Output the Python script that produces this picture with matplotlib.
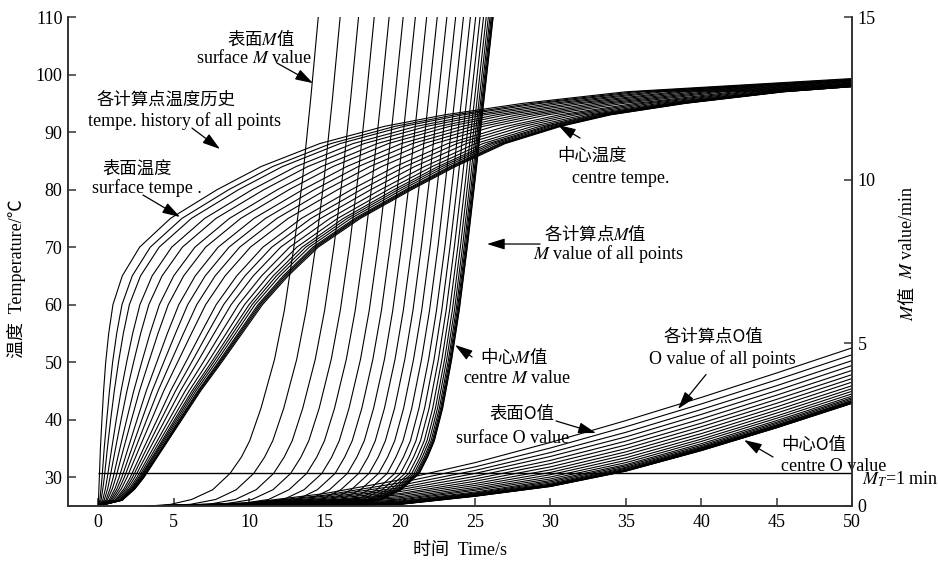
import matplotlib.pyplot as plt

plt.rcParams['font.family'] = ['Liberation Serif', 'Noto Sans CJK SC']
plt.rcParams['mathtext.fontset'] = 'stix'

# temperature curves, surface point first, centre point last
# time (s) at which each point reaches the level
temp_start = 25
temp_levels = [26, 28, 30, 35, 40, 45, 50, 55, 60, 65, 70, 75, 80, 84, 88, 91, 93, 95, 97]
temp_t26 = [0.02, 0.11, 0.19, 0.30, 0.40, 0.51, 0.60, 0.72, 0.81, 0.90, 1.00, 1.11, 1.19, 1.27, 1.35, 1.41, 1.46, 1.49, 1.52, 1.55, 1.57, 1.58, 1.60]
temp_t28 = [0.05, 0.19, 0.31, 0.48, 0.63, 0.79, 0.94, 1.11, 1.25, 1.39, 1.54, 1.71, 1.83, 1.95, 2.07, 2.16, 2.23, 2.28, 2.33, 2.38, 2.40, 2.43, 2.45]
temp_t30 = [0.08, 0.26, 0.41, 0.61, 0.79, 1.00, 1.18, 1.39, 1.57, 1.74, 1.92, 2.13, 2.28, 2.43, 2.58, 2.69, 2.78, 2.84, 2.90, 2.96, 2.99, 3.02, 3.05]
temp_t35 = [0.15, 0.40, 0.61, 0.90, 1.15, 1.44, 1.69, 1.98, 2.23, 2.47, 2.72, 3.01, 3.22, 3.43, 3.64, 3.80, 3.93, 4.01, 4.09, 4.18, 4.22, 4.26, 4.30]
temp_t40 = [0.25, 0.57, 0.83, 1.20, 1.52, 1.89, 2.21, 2.58, 2.90, 3.22, 3.54, 3.91, 4.17, 4.44, 4.70, 4.91, 5.07, 5.18, 5.29, 5.39, 5.44, 5.50, 5.55]
temp_t45 = [0.36, 0.75, 1.07, 1.52, 1.91, 2.36, 2.74, 3.19, 3.58, 3.97, 4.35, 4.80, 5.13, 5.45, 5.77, 6.03, 6.22, 6.35, 6.48, 6.61, 6.67, 6.74, 6.80]
temp_t50 = [0.50, 0.96, 1.35, 1.89, 2.35, 2.89, 3.35, 3.89, 4.35, 4.81, 5.27, 5.81, 6.20, 6.58, 6.97, 7.28, 7.51, 7.66, 7.82, 7.97, 8.05, 8.12, 8.20]
temp_t55 = [0.70, 1.23, 1.67, 2.29, 2.82, 3.44, 3.97, 4.59, 5.13, 5.66, 6.19, 6.81, 7.25, 7.69, 8.13, 8.49, 8.75, 8.93, 9.11, 9.28, 9.37, 9.46, 9.55]
temp_t60 = [0.98, 1.58, 2.07, 2.77, 3.36, 4.06, 4.65, 5.35, 5.94, 6.54, 7.13, 7.83, 8.32, 8.82, 9.31, 9.71, 10.01, 10.21, 10.40, 10.60, 10.70, 10.80, 10.90]
temp_t65 = [1.60, 2.26, 2.81, 3.58, 4.24, 5.01, 5.67, 6.44, 7.10, 7.76, 8.42, 9.19, 9.74, 10.29, 10.84, 11.28, 11.61, 11.83, 12.05, 12.27, 12.38, 12.49, 12.60]
temp_t70 = [2.75, 3.46, 4.05, 4.88, 5.59, 6.42, 7.13, 7.96, 8.68, 9.39, 10.10, 10.93, 11.52, 12.11, 12.70, 13.18, 13.53, 13.77, 14.01, 14.24, 14.36, 14.48, 14.60]
temp_t75 = [4.80, 5.56, 6.19, 7.07, 7.82, 8.71, 9.46, 10.34, 11.10, 11.86, 12.61, 13.49, 14.12, 14.75, 15.38, 15.89, 16.27, 16.52, 16.77, 17.02, 17.15, 17.27, 17.40]
temp_t80 = [7.90, 8.67, 9.32, 10.22, 11.00, 11.90, 12.67, 13.58, 14.35, 15.12, 15.90, 16.80, 17.45, 18.09, 18.74, 19.25, 19.64, 19.90, 20.16, 20.41, 20.54, 20.67, 20.80]
temp_t84 = [10.80, 11.57, 12.22, 13.12, 13.90, 14.80, 15.57, 16.48, 17.25, 18.02, 18.80, 19.70, 20.35, 20.99, 21.64, 22.15, 22.54, 22.80, 23.06, 23.31, 23.44, 23.57, 23.70]
temp_t88 = [14.70, 15.44, 16.05, 16.91, 17.65, 18.51, 19.25, 20.11, 20.85, 21.59, 22.33, 23.19, 23.80, 24.42, 25.03, 25.52, 25.89, 26.14, 26.39, 26.63, 26.75, 26.88, 27.00]
temp_t91 = [19.00, 19.70, 20.29, 21.11, 21.81, 22.63, 23.33, 24.15, 24.85, 25.55, 26.25, 27.07, 27.66, 28.24, 28.83, 29.30, 29.65, 29.88, 30.12, 30.35, 30.47, 30.58, 30.70]
temp_t93 = [23.00, 23.66, 24.21, 24.98, 25.64, 26.41, 27.07, 27.84, 28.50, 29.16, 29.82, 30.59, 31.14, 31.69, 32.24, 32.68, 33.01, 33.23, 33.45, 33.67, 33.78, 33.89, 34.00]
temp_t95 = [28.20, 28.85, 29.39, 30.14, 30.79, 31.55, 32.20, 32.95, 33.60, 34.25, 34.90, 35.65, 36.19, 36.73, 37.27, 37.70, 38.03, 38.24, 38.46, 38.68, 38.78, 38.89, 39.00]
temp_t97 = [35.0, 35.6, 36.2, 36.9, 37.5, 38.3, 38.9, 39.6, 40.3, 40.9, 41.5, 42.2, 42.8, 43.3, 43.8, 44.2, 44.6, 44.8, 45.0, 45.2, 45.3, 45.4, 45.5]
temp_end = [99.3, 99.2, 99.1, 99.0, 99.0, 98.9, 98.8, 98.7, 98.6, 98.5, 98.4, 98.3, 98.3, 98.2, 98.1, 98.1, 98.0, 98.0, 98.0, 97.9, 97.9, 97.9, 97.9]

# M value curves (min): time (s) at which each point reaches the level
m_start = 3.4
m_levels = [0.05, 0.2, 0.5, 1, 1.5, 2, 3, 4.5, 6, 8, 10, 12.5, 15]
m_t0p05 = [4.8, 6.1, 7.3, 8.2, 9.1, 10.0, 10.7, 11.4, 12.1, 12.7, 13.2, 13.7, 14.1, 14.4, 14.7, 14.9, 15.1, 15.2, 15.3, 15.4, 15.4, 15.5, 15.5]
m_t0p2 = [6.2, 7.8, 9.1, 10.2, 11.3, 12.3, 13.2, 14.0, 14.8, 15.5, 16.1, 16.7, 17.2, 17.5, 17.9, 18.1, 18.3, 18.4, 18.6, 18.7, 18.7, 18.8, 18.8]
m_t0p5 = [7.60, 9.16, 10.48, 11.60, 12.66, 13.66, 14.54, 15.35, 16.10, 16.79, 17.41, 17.98, 18.48, 18.85, 19.16, 19.41, 19.60, 19.75, 19.88, 19.96, 20.03, 20.08, 20.10]
m_t1 = [8.75, 10.32, 11.64, 12.77, 13.83, 14.84, 15.72, 16.53, 17.28, 17.97, 18.60, 19.17, 19.67, 20.05, 20.36, 20.61, 20.80, 20.95, 21.07, 21.16, 21.23, 21.28, 21.30]
m_t1p5 = [9.50, 11.04, 12.34, 13.45, 14.50, 15.49, 16.35, 17.16, 17.90, 18.58, 19.20, 19.75, 20.25, 20.62, 20.92, 21.17, 21.36, 21.50, 21.63, 21.71, 21.78, 21.83, 21.85]
m_t2 = [10.05, 11.58, 12.87, 13.97, 15.01, 15.99, 16.85, 17.65, 18.38, 19.05, 19.67, 20.22, 20.71, 21.08, 21.38, 21.63, 21.81, 21.96, 22.08, 22.17, 22.23, 22.28, 22.30]
m_t3 = [10.80, 12.31, 13.57, 14.66, 15.68, 16.64, 17.49, 18.27, 18.99, 19.66, 20.26, 20.80, 21.28, 21.65, 21.95, 22.19, 22.37, 22.51, 22.63, 22.72, 22.78, 22.83, 22.85]
m_t4p5 = [11.70, 13.17, 14.40, 15.46, 16.46, 17.40, 18.22, 18.99, 19.69, 20.34, 20.92, 21.45, 21.92, 22.28, 22.57, 22.80, 22.98, 23.12, 23.24, 23.32, 23.38, 23.43, 23.45]
m_t6 = [12.35, 13.80, 15.02, 16.06, 17.05, 17.98, 18.79, 19.54, 20.24, 20.88, 21.46, 21.98, 22.44, 22.79, 23.08, 23.31, 23.49, 23.63, 23.74, 23.82, 23.88, 23.93, 23.95]
m_t8 = [13.00, 14.44, 15.65, 16.68, 17.66, 18.58, 19.38, 20.13, 20.82, 21.45, 22.03, 22.55, 23.01, 23.35, 23.64, 23.87, 24.04, 24.18, 24.29, 24.37, 24.43, 24.48, 24.50]
m_t10 = [13.55, 14.98, 16.18, 17.21, 18.19, 19.10, 19.91, 20.65, 21.34, 21.97, 22.54, 23.05, 23.51, 23.86, 24.14, 24.37, 24.54, 24.68, 24.79, 24.87, 24.93, 24.98, 25.00]
m_t12p5 = [14.10, 15.54, 16.75, 17.78, 18.76, 19.68, 20.48, 21.23, 21.92, 22.55, 23.13, 23.65, 24.11, 24.45, 24.74, 24.97, 25.14, 25.28, 25.39, 25.47, 25.53, 25.58, 25.60]
m_t15 = [14.60, 16.05, 17.27, 18.31, 19.30, 20.23, 21.04, 21.79, 22.49, 23.13, 23.71, 24.23, 24.69, 25.04, 25.33, 25.56, 25.74, 25.88, 25.99, 26.07, 26.13, 26.18, 26.20]

# O value curves (min) at fixed times
o_times = [3.4, 10, 15, 20, 25, 30, 35, 40, 45, 50]
o_at3 = [0] * 23
o_at10 = [0.10, 0.09, 0.08, 0.07, 0.06, 0.05, 0.04, 0.04, 0.03, 0.03, 0.02, 0.02, 0.01, 0.01, 0.01, 0.01, 0, 0, 0, 0, 0, 0, 0]
o_at15 = [0.38, 0.33, 0.30, 0.26, 0.23, 0.20, 0.17, 0.15, 0.13, 0.11, 0.09, 0.07, 0.06, 0.05, 0.04, 0.03, 0.02, 0.02, 0.02, 0.01, 0.01, 0.01, 0.01]
o_at20 = [0.80, 0.71, 0.63, 0.56, 0.50, 0.44, 0.38, 0.34, 0.29, 0.25, 0.21, 0.18, 0.15, 0.13, 0.11, 0.09, 0.08, 0.07, 0.06, 0.06, 0.06, 0.05, 0.05]
o_at25 = [1.33, 1.20, 1.09, 1.00, 0.91, 0.83, 0.76, 0.69, 0.63, 0.57, 0.52, 0.48, 0.43, 0.40, 0.38, 0.36, 0.34, 0.33, 0.32, 0.31, 0.31, 0.30, 0.30]
o_at30 = [1.95, 1.78, 1.64, 1.52, 1.40, 1.30, 1.20, 1.11, 1.03, 0.96, 0.89, 0.83, 0.78, 0.74, 0.70, 0.67, 0.65, 0.64, 0.62, 0.62, 0.61, 0.60, 0.60]
o_at35 = [2.62, 2.43, 2.26, 2.12, 1.99, 1.87, 1.76, 1.66, 1.57, 1.48, 1.40, 1.33, 1.27, 1.23, 1.19, 1.16, 1.13, 1.11, 1.10, 1.09, 1.08, 1.07, 1.07]
o_at40 = [3.33, 3.13, 2.96, 2.81, 2.67, 2.54, 2.43, 2.32, 2.22, 2.13, 2.05, 1.98, 1.91, 1.86, 1.82, 1.79, 1.77, 1.75, 1.73, 1.72, 1.71, 1.70, 1.70]
o_at45 = [4.08, 3.87, 3.69, 3.54, 3.40, 3.27, 3.15, 3.04, 2.94, 2.85, 2.76, 2.69, 2.62, 2.57, 2.53, 2.49, 2.47, 2.45, 2.43, 2.42, 2.41, 2.40, 2.40]
o_at50 = [4.85, 4.64, 4.46, 4.31, 4.16, 4.03, 3.91, 3.80, 3.69, 3.60, 3.52, 3.44, 3.37, 3.32, 3.28, 3.24, 3.22, 3.20, 3.18, 3.17, 3.16, 3.15, 3.15]

mt_value = 1
time_range = [0, 50]

fig = plt.figure(figsize=(9.38, 5.66), dpi=100)
ax = fig.add_axes([68 / 938, 60 / 566, 784 / 938, 489 / 566])
ax2 = ax.twinx()

temp_rows = [temp_t26, temp_t28, temp_t30, temp_t35, temp_t40, temp_t45, temp_t50, temp_t55, temp_t60,
             temp_t65, temp_t70, temp_t75, temp_t80, temp_t84, temp_t88, temp_t91, temp_t93, temp_t95, temp_t97]
for i, end in enumerate(temp_end):
    x = [time_range[0]] + [row[i] for row in temp_rows] + [time_range[1]]
    y = [temp_start] + temp_levels + [end]
    ax.plot(x, y, color='black', lw=0.8)

m_rows = [m_t0p05, m_t0p2, m_t0p5, m_t1, m_t1p5, m_t2, m_t3, m_t4p5, m_t6, m_t8, m_t10, m_t12p5, m_t15]
for i in range(len(m_t1)):
    x = [m_start] + [row[i] for row in m_rows]
    y = [0] + m_levels
    ax2.plot(x, y, color='black', lw=0.8)

o_rows = [o_at3, o_at10, o_at15, o_at20, o_at25, o_at30, o_at35, o_at40, o_at45, o_at50]
for i in range(len(o_at50)):
    ax2.plot(o_times, [row[i] for row in o_rows], color='black', lw=0.8)

ax2.hlines(mt_value, time_range[0], time_range[1], color='black', lw=1.0)

ax.set_xlim(-2, 50)
ax.set_ylim(25, 110)
ax2.set_ylim(0, 15)
ax.set_xticks(range(0, 51, 5))
ax.set_yticks(range(30, 111, 10))
ax2.set_yticks([0, 5, 10, 15])

spine_c = '#333333'
for a in (ax, ax2):
    a.spines['top'].set_visible(False)
    for s in a.spines.values():
        s.set_color(spine_c)
        s.set_linewidth(1.2)
ax.tick_params(axis='both', direction='in', length=6, width=1.1, color=spine_c, labelsize=13)
ax.tick_params(axis='x', pad=6)
ax.tick_params(axis='y', pad=4)
ax2.tick_params(axis='y', direction='in', length=6, width=1.1, color=spine_c, labelsize=13, pad=4)

# axis titles
fig.text(460 / 938, 1 - 550 / 566, '时间  Time/s', fontsize=13, ha='center', va='center')
fig.text(16 / 938, 1 - 279 / 566, '温度  Temperature/℃', fontsize=13, rotation=90,
         ha='center', va='center')
fig.text(907 / 938, 1 - 321 / 566, '$M$值', family='Noto Sans CJK SC', fontsize=13,
         rotation=90, rotation_mode='anchor', ha='left', va='center')
fig.text(907 / 938, 1 - 279 / 566, '$M$ value/min', family='Liberation Serif', fontsize=13,
         rotation=90, rotation_mode='anchor', ha='left', va='center')

cjk = dict(family='Noto Sans CJK SC', fontsize=12.5, ha='center', va='center')
en = dict(family='Liberation Serif', fontsize=13, ha='center', va='center')
arrow = dict(arrowstyle='-|>,head_length=0.9,head_width=0.28', color='black', lw=0.9,
             mutation_scale=12, shrinkA=0, shrinkB=0)


def note(cn, cn_xy, eng, eng_xy, tail, tip):
    ax.text(cn_xy[0], cn_xy[1], cn, **cjk)
    ax.text(eng_xy[0], eng_xy[1], eng, **en)
    ax.annotate('', xy=tip, xytext=tail, arrowprops=arrow, annotation_clip=False)


note('表面$M$值', (10.8, 106.3), 'surface $M$ value', (10.34, 102.9), (11.86, 102.0), (14.25, 98.5))
note('各计算点温度历史', (4.5, 95.6), 'tempe. history of all points', (5.76, 91.9), (6.22, 90.7), (8.08, 87.05))
note('表面温度', (2.58, 83.6), 'surface tempe .', (3.24, 80.3), (2.97, 79.06), (5.43, 75.24))
note('中心温度', (32.75, 85.8), 'centre tempe.', (34.68, 82.0), (31.96, 88.97), (30.5, 91.23))
note('各计算点$M$值', (32.95, 72.45), '$M$ value of all points', (33.82, 68.8), (29.31, 70.54), (25.79, 70.54))
note('中心$M$值', (27.58, 51.07), 'centre $M$ value', (27.78, 47.08), (24.8, 50.9), (23.67, 52.99))
note('各计算点O值', (40.78, 54.38), 'O value of all points', (41.38, 50.55), (40.32, 47.86), (38.46, 41.86))
note('表面O值', (28.11, 40.99), 'surface O value', (27.52, 36.82), (30.37, 39.78), (33.02, 37.69))
note('中心O值', (47.48, 35.6), 'centre O value', (48.81, 31.95), (44.76, 33.52), (42.84, 36.47))

ax.text(50.66, 29.7, '$M_T$=1 min', family='Liberation Serif', fontsize=13, ha='left', va='center')

fig.savefig('out.png', dpi=100)
